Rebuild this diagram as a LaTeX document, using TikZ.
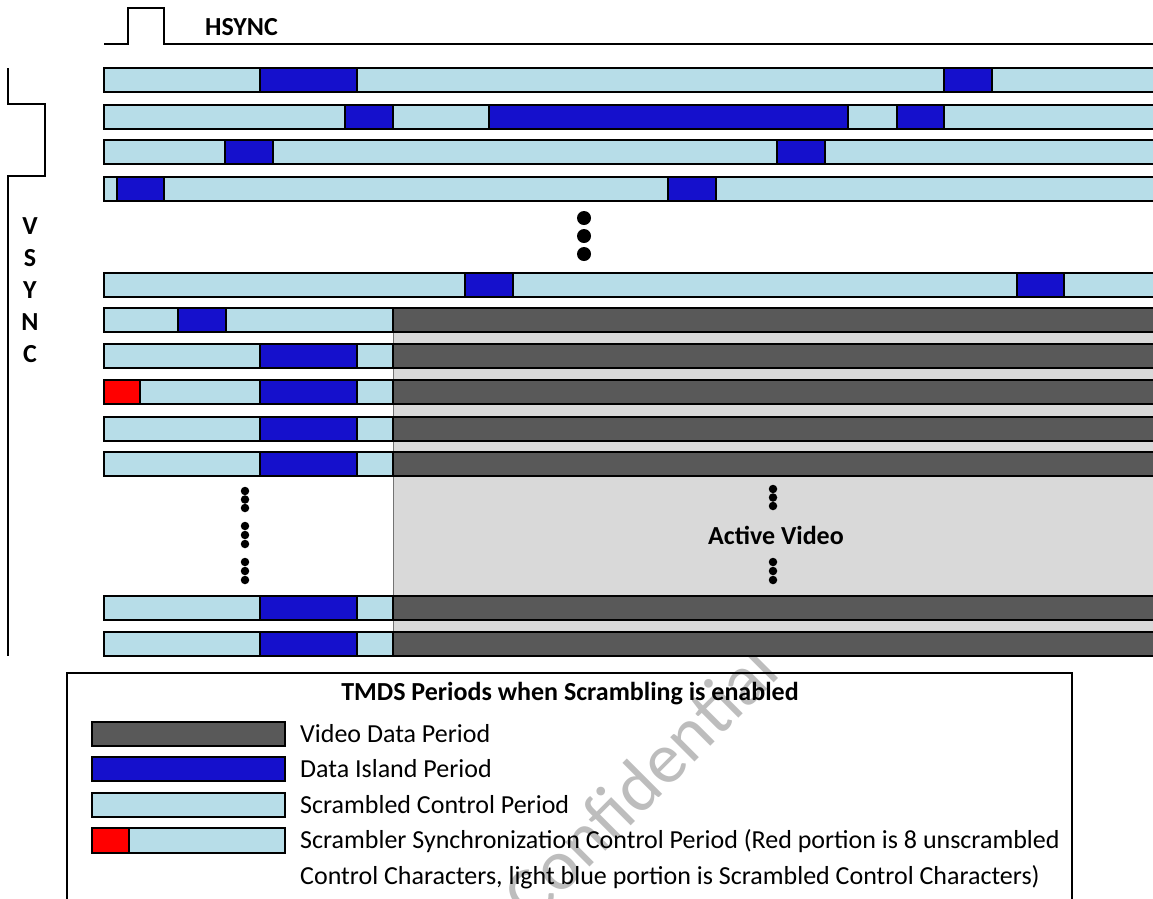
\documentclass[tikz,border=0pt]{standalone}
\usepackage{fontspec}
\setmainfont{Carlito}
\definecolor{lblue}{HTML}{B7DDE8}
\definecolor{dblue}{HTML}{1510CC}
\definecolor{vgray}{HTML}{595959}
\definecolor{agray}{HTML}{D9D9D9}
\definecolor{wmark}{HTML}{BDBDBD}
\begin{document}
\begin{tikzpicture}[x=1pt,y=-1pt,
  seg/.style={draw=black,line width=1.3pt},
  ctl/.style={seg,fill=lblue},
  isl/.style={seg,fill=dblue},
  vid/.style={seg,fill=vgray},
  syncred/.style={seg,fill=red},
  sig/.style={line width=1.7pt,line join=miter},
  lbl/.style={font=\fontsize{26}{30}\selectfont\bfseries,inner sep=0pt},
  txt/.style={font=\fontsize{26}{30}\selectfont,inner sep=0pt,anchor=base west},
  bigdot/.style={fill=black,circle,inner sep=0pt,minimum size=14pt},
  smalldot/.style={fill=black,circle,inner sep=0pt,minimum size=8.5pt}]
\clip (0,0) rectangle (1153,898);
\fill[white] (0,0) rectangle (1153,898);
% watermark
\node[text=wmark,rotate=45,font=\fontsize{72}{72}\selectfont,inner sep=0pt] (wm) at (640,782) {Confidential};
% HSYNC
\coordinate (hs0) at (104,44);
\coordinate (hs1) at (1165,44);
\draw[sig] (hs0) -- (128,44) -- (128,8) -- (164,8) -- (164,44) -- (hs1);
\node[lbl,anchor=base west] (hsync) at (205,35) {HSYNC};
% VSYNC
\coordinate (vs0) at (8,68);
\coordinate (vs1) at (8,656);
\draw[sig] (vs0) -- (8,104) -- (45,104) -- (45,176) -- (8,176) -- (vs1);
\foreach \l/\b [count=\i] in {V/234,S/266,Y/298,N/330,C/362}
  \node[lbl,anchor=base] (vl\i) at (30,\b) {\l};
% active video background
\draw[fill=agray,draw=black!55,line width=1pt] (393,308) rectangle (1170,656);
% blanking rows
\draw[ctl] (104,68) rectangle (1165,92);
\draw[isl] (260,68) rectangle (357,92);
\draw[isl] (944,68) rectangle (992,92);
\draw[ctl] (104,105) rectangle (1165,129);
\draw[isl] (345,105) rectangle (393,129);
\draw[isl] (489,105) rectangle (848,129);
\draw[isl] (897,105) rectangle (944,129);
\draw[ctl] (104,140) rectangle (1165,164);
\draw[isl] (225,140) rectangle (273,164);
\draw[isl] (777,140) rectangle (825,164);
\draw[ctl] (104,177) rectangle (1165,201);
\draw[isl] (117,177) rectangle (164,201);
\draw[isl] (668,177) rectangle (716,201);
\foreach \y [count=\i] in {218,236,254}
  \node[bigdot] (bd\i) at (584,\y) {};
\draw[ctl] (104,273) rectangle (1165,297);
\draw[isl] (465,273) rectangle (513,297);
\draw[isl] (1017,273) rectangle (1064,297);
% rows with video
\draw[ctl] (104,308) rectangle (393,332);
\draw[isl] (178,308) rectangle (226,332);
\draw[vid] (393,308) rectangle (1170,332);
\foreach \t in {344,380,417,452,596,632} {
  \draw[ctl] (104,\t) rectangle (393,\t+24);
  \draw[isl] (260,\t) rectangle (357,\t+24);
  \draw[vid] (393,\t) rectangle (1170,\t+24);
}
\draw[syncred] (104,380) rectangle (140,404);
% dots
\foreach \y [count=\i] in {491,499.5,508,526,535,544,562,571,580}
  \node[smalldot] (sd\i) at (245,\y) {};
\foreach \y [count=\i] in {489,497.5,506,562,571,580}
  \node[smalldot] (ad\i) at (773,\y) {};
\node[lbl,anchor=base] (av) at (776,544) {Active Video};
% legend
\draw[line width=1.3pt] (67,910) -- (67,673) -- (1072,673) -- (1072,910);
\node[lbl,anchor=base] (ltitle) at (570,700) {TMDS Periods when Scrambling is enabled};
\draw[vid] (92,722) rectangle (285,746);
\draw[isl] (92,757) rectangle (285,781);
\draw[ctl] (92,793) rectangle (285,817);
\draw[ctl] (92,828) rectangle (285,853);
\draw[syncred] (92,828) rectangle (129,853);
\node[txt] (t1) at (300,742) {Video Data Period};
\node[txt] (t2) at (300,777) {Data Island Period};
\node[txt] (t3) at (300,813) {Scrambled Control Period};
\node[txt] (t4) at (300,848) {Scrambler Synchronization Control Period (Red portion is 8 unscrambled};
\node[txt] (t5) at (300,884) {Control Characters, light blue portion is Scrambled Control Characters)};
\end{tikzpicture}
\end{document}
